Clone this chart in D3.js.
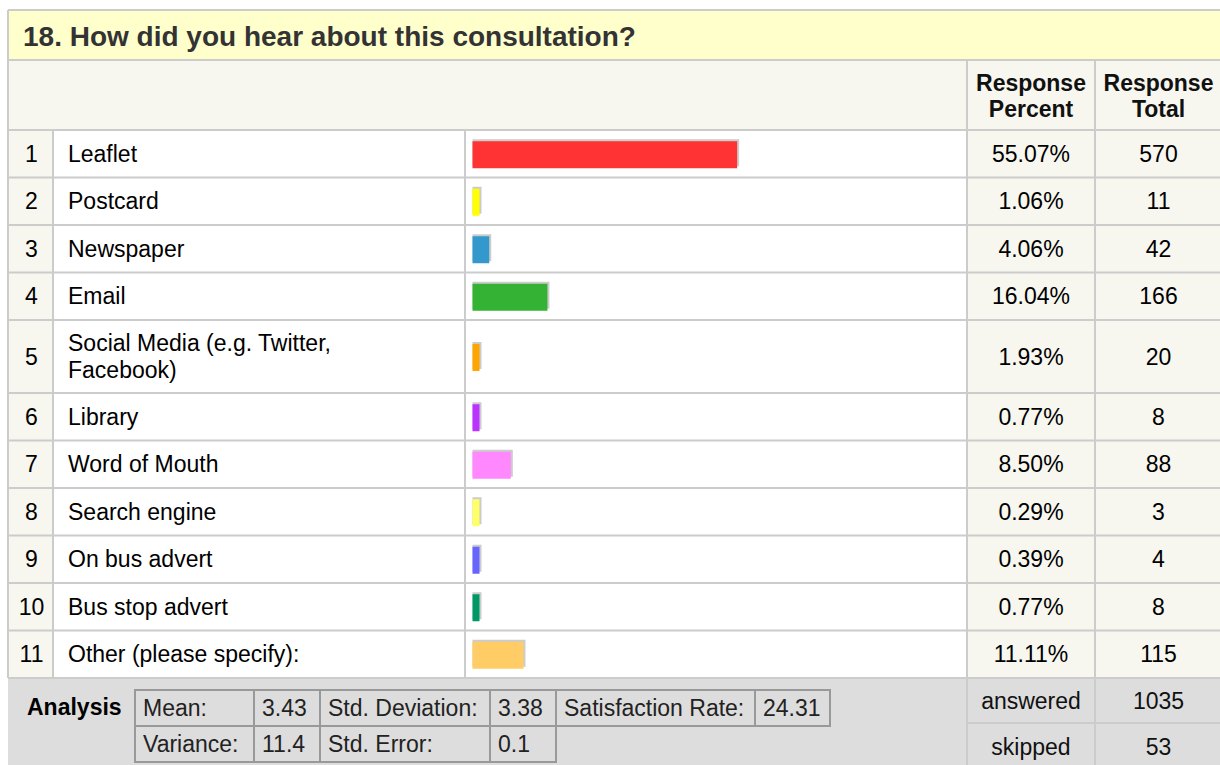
<!DOCTYPE html>
<html>
<meta charset="utf-8">
<style>
    body { margin: 0; background: #fff; }
    svg { display: block; font-family: "Liberation Sans", Arial, sans-serif; }
    .grid { stroke: #ccc; stroke-width: 2px; }
</style>

<body>
    <script src="https://d3js.org/d3.v7.min.js"></script>
    <script>

        // survey data
        var title = "18. How did you hear about this consultation?";
        var labels = ["Leaflet", "Postcard", "Newspaper", "Email", "Social Media (e.g. Twitter, Facebook)",
            "Library", "Word of Mouth", "Search engine", "On bus advert", "Bus stop advert", "Other (please specify):"];
        var percents = [55.07, 1.06, 4.06, 16.04, 1.93, 0.77, 8.50, 0.29, 0.39, 0.77, 11.11];
        var totals = [570, 11, 42, 166, 20, 8, 88, 3, 4, 8, 115];
        var colors = ["#ff3333", "#ffff00", "#3399cc", "#33b233", "#ffa500", "#bb33ff",
            "#ff88ff", "#ffff66", "#6666ff", "#009966", "#ffcc66"];
        var answered = 1035, skipped = 53;
        var statsRow1 = ["Mean:", "3.43", "Std. Deviation:", "3.38", "Satisfaction Rate:", "24.31"];
        var statsRow2 = ["Variance:", "11.4", "Std. Error:", "0.1"];

        var W = 1220, H = 765;
        // column edges: number | label | bar | percent | total
        var cols = [8, 53, 465, 967, 1095, 1222];
        var rowTop = 130, headTop = 61;
        var fs = 23;

        var svg = d3.select("body").append("svg")
            .attr("width", W)
            .attr("height", H);

        // row heights (two-line label gets a taller row)
        var rowH = labels.map(function (d) { return d.length > 30 ? 73 : 47.5; });
        var rowY = [];
        var acc = rowTop;
        rowH.forEach(function (h) { rowY.push(acc); acc += h; });
        var footTop = acc;

        // bar scale
        var x = d3.scaleLinear().domain([0, 100]).range([0, 486]);

        // title band
        svg.append("rect").attr("x", cols[0]).attr("y", 10).attr("width", W).attr("height", 50)
            .attr("fill", "#ffffcc");
        svg.append("text").attr("x", 23).attr("y", 46)
            .attr("font-size", 28).attr("font-weight", "bold").attr("fill", "#333")
            .text(title);

        // header row
        svg.append("rect").attr("x", cols[0]).attr("y", headTop).attr("width", W).attr("height", rowTop - headTop)
            .attr("fill", "#f7f7f0");
        [["Response", "Percent"], ["Response", "Total"]].forEach(function (t, i) {
            var cx = (cols[3 + i] + cols[4 + i]) / 2;
            var tx = svg.append("text").attr("text-anchor", "middle")
                .attr("font-size", fs).attr("font-weight", "bold").attr("fill", "#111");
            tx.append("tspan").attr("x", cx).attr("y", 91).text(t[0]);
            tx.append("tspan").attr("x", cx).attr("y", 117).text(t[1]);
        });

        // body rows
        var rows = svg.selectAll(".row")
            .data(labels)
            .enter().append("g")
            .attr("class", "row")
            .attr("transform", function (d, i) { return "translate(0," + rowY[i] + ")"; });

        rows.append("rect").attr("x", cols[0]).attr("width", cols[1] - cols[0])
            .attr("height", function (d, i) { return rowH[i]; }).attr("fill", "#f7f7f0");
        rows.append("rect").attr("x", cols[1]).attr("width", cols[3] - cols[1])
            .attr("height", function (d, i) { return rowH[i]; }).attr("fill", "#fff");
        rows.append("rect").attr("x", cols[3]).attr("width", W - cols[3])
            .attr("height", function (d, i) { return rowH[i]; }).attr("fill", "#f7f7f0");

        // row number
        rows.append("text")
            .attr("x", (cols[0] + cols[1]) / 2 + 1)
            .attr("y", function (d, i) { return rowH[i] / 2; })
            .attr("dy", "0.35em")
            .attr("text-anchor", "middle")
            .attr("font-size", fs)
            .text(function (d, i) { return i + 1; });

        // label (wrapped)
        rows.append("text")
            .attr("x", 68)
            .attr("font-size", fs)
            .each(function (d, i) {
                var el = d3.select(this);
                var words = d.split(" "), lines = [], line = [];
                var probe = el.append("tspan");
                words.forEach(function (w) {
                    line.push(w);
                    probe.text(line.join(" "));
                    if (probe.node().getComputedTextLength() > 300 && line.length > 1) {
                        line.pop();
                        lines.push(line.join(" "));
                        line = [w];
                    }
                });
                lines.push(line.join(" "));
                probe.remove();
                var lh = 27;
                var y0 = rowH[i] / 2 - (lines.length - 1) * lh / 2;
                lines.forEach(function (l, k) {
                    el.append("tspan").attr("x", 68).attr("y", y0 + k * lh).attr("dy", "0.35em").text(l);
                });
            });

        // bars with grey shadow
        var barH = 27, bx = 472.5;
        function bw(p) { return Math.max(7, x(p) - 3); }
        rows.append("rect")
            .attr("x", bx)
            .attr("y", function (d, i) { return rowH[i] / 2 - barH / 2 - 1; })
            .attr("width", function (d, i) { return bw(percents[i]) + 2; })
            .attr("height", barH)
            .attr("fill", "#ccc");
        rows.append("rect")
            .attr("x", bx)
            .attr("y", function (d, i) { return rowH[i] / 2 - barH / 2 + 1; })
            .attr("width", function (d, i) { return bw(percents[i]); })
            .attr("height", barH)
            .attr("fill", function (d, i) { return colors[i]; });

        // percent and total
        rows.append("text")
            .attr("x", (cols[3] + cols[4]) / 2)
            .attr("y", function (d, i) { return rowH[i] / 2; })
            .attr("dy", "0.35em").attr("text-anchor", "middle").attr("font-size", fs)
            .text(function (d, i) { return percents[i].toFixed(2) + "%"; });
        rows.append("text")
            .attr("x", (cols[4] + cols[5]) / 2)
            .attr("y", function (d, i) { return rowH[i] / 2; })
            .attr("dy", "0.35em").attr("text-anchor", "middle").attr("font-size", fs)
            .text(function (d, i) { return totals[i]; });

        // footer
        svg.append("rect").attr("x", cols[0]).attr("y", footTop).attr("width", W).attr("height", H - footTop)
            .attr("fill", "#dddddd");
        svg.append("text").attr("x", 27).attr("y", 715)
            .attr("font-size", fs).attr("font-weight", "bold").text("Analysis");

        // analysis mini table
        var sx = [135, 254, 320, 490, 556, 755, 830];
        var sy = [690, 726, 762];
        [statsRow1, statsRow2].forEach(function (r, ri) {
            r.forEach(function (t, ci) {
                svg.append("rect")
                    .attr("x", sx[ci]).attr("y", sy[ri])
                    .attr("width", sx[ci + 1] - sx[ci]).attr("height", sy[ri + 1] - sy[ri])
                    .attr("fill", "#dddddd").attr("stroke", "#999").attr("stroke-width", 2);
                svg.append("text")
                    .attr("x", sx[ci] + 8).attr("y", (sy[ri] + sy[ri + 1]) / 2)
                    .attr("dy", "0.35em").attr("font-size", fs).attr("fill", "#222")
                    .text(t);
            });
        });

        // answered / skipped
        var fy = [footTop, 723, 770];
        [["answered", answered], ["skipped", skipped]].forEach(function (r, i) {
            var cy = (fy[i] + fy[i + 1]) / 2;
            svg.append("text").attr("x", (cols[3] + cols[4]) / 2).attr("y", cy)
                .attr("dy", "0.35em").attr("text-anchor", "middle").attr("font-size", fs).attr("fill", "#111")
                .text(r[0]);
            svg.append("text").attr("x", (cols[4] + cols[5]) / 2).attr("y", cy)
                .attr("dy", "0.35em").attr("text-anchor", "middle").attr("font-size", fs).attr("fill", "#111")
                .text(r[1]);
        });

        // grid lines
        var hLines = [10, 60, rowTop].concat(rowY.slice(1)).concat([footTop]);
        svg.selectAll(".hl").data(hLines).enter().append("line")
            .attr("class", "grid")
            .attr("x1", cols[0]).attr("x2", W)
            .attr("y1", function (d) { return d; }).attr("y2", function (d) { return d; });
        svg.append("line").attr("class", "grid")
            .attr("x1", cols[3]).attr("x2", W).attr("y1", 723).attr("y2", 723);
        // left outer border
        svg.append("line").attr("class", "grid")
            .attr("x1", cols[0]).attr("x2", cols[0]).attr("y1", 10).attr("y2", footTop);
        // column lines in body
        [cols[1], cols[2]].forEach(function (c) {
            svg.append("line").attr("class", "grid")
                .attr("x1", c).attr("x2", c).attr("y1", rowTop).attr("y2", footTop);
        });
        [cols[3], cols[4]].forEach(function (c) {
            svg.append("line").attr("class", "grid")
                .attr("x1", c).attr("x2", c).attr("y1", headTop).attr("y2", H);
        });

    </script>
</body>
</html>
